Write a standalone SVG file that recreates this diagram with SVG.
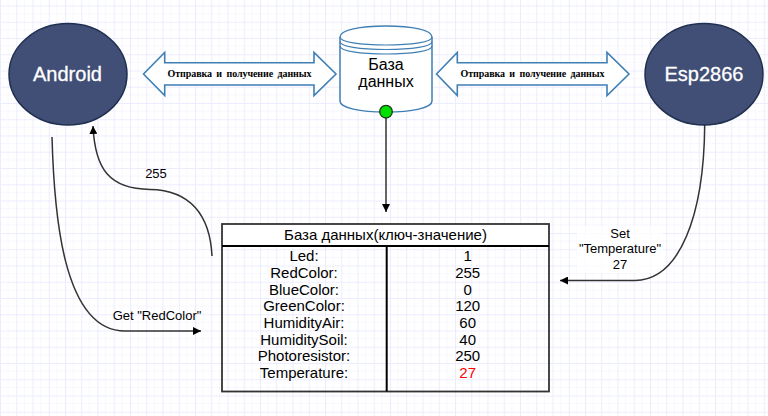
<svg xmlns="http://www.w3.org/2000/svg" width="768" height="416" viewBox="0 0 768 416">
<style>
.sans{font-family:"Liberation Sans",Arial,sans-serif;text-anchor:middle;fill:#000}
.node{fill:#414e75;stroke:#1f2f4f;stroke-width:1.5}
.nt{font-size:20px;fill:#fff}
.flow{fill:#fff;stroke:#3f7fb5;stroke-width:1.6}
.ft{font-family:"Liberation Serif","Times New Roman",serif;font-size:10px;font-weight:bold;text-anchor:middle;fill:#000;word-spacing:2px}
.cyl{fill:#fff;stroke:#3f7fb5;stroke-width:1.5}
.arc{fill:none;stroke:#3f7fb5;stroke-width:1.2}
.tb{font-size:15px}
.lbl{font-size:13px}
.conn{fill:none;stroke:#333;stroke-width:1.5}
.grid{stroke:#000;stroke-width:2;fill:none}
</style>
<defs>
<pattern id="g" width="16.25" height="16.25" patternUnits="userSpaceOnUse" y="5.5">
<path d="M8.1 0V16.25M0 8.1H16.25" stroke="#f7f7ff" stroke-width="1" fill="none"/>
<path d="M0.5 0V16.25M0 0.5H16.25" stroke="#ececff" stroke-width="1.1" fill="none"/>
</pattern>
<marker id="a" markerUnits="userSpaceOnUse" markerWidth="9" markerHeight="8" refX="8" refY="4" orient="auto"><path d="M0 0L8 4L0 8Z" fill="#000"/></marker>
</defs>
<rect width="768" height="416" fill="#fff"/>
<rect width="768" height="416" fill="url(#g)"/>
<g id="connectors">
<rect x="577" y="226" width="86" height="47" fill="#fff" fill-opacity=".8"/>
<path class="conn" d="M52 137C54 210 62 331 125 331L201 331" marker-end="url(#a)"/>
<path class="conn" d="M212 256C210 215 190 190 150 189.5C110 189 95 170 93 126" marker-end="url(#a)"/>
<path class="conn" d="M704.7 125C704 215 680 280 635 280.5L560 280.5" marker-end="url(#a)"/>
<path class="conn" d="M386 118V212" marker-end="url(#a)"/>
<text class="sans lbl" x="156" y="177.5">255</text>
<text class="sans lbl" x="157" y="319.5">Get "RedColor"</text>
<text class="sans lbl" x="620" y="238">Set</text>
<text class="sans lbl" x="620" y="253">"Temperature"</text>
<text class="sans lbl" x="620" y="268.5">27</text>
</g>
<g id="android">
<ellipse class="node" cx="68" cy="74.3" rx="59" ry="50.7"/>
<text class="sans nt" x="67.5" y="81" stroke="#fff" stroke-width=".3">Android</text>
</g>
<g id="esp2866">
<ellipse class="node" cx="704" cy="74.3" rx="59" ry="50.7"/>
<text class="sans nt" x="704" y="81" stroke="#fff" stroke-width=".3">Esp2866</text>
</g>
<g id="flow-left">
<path class="flow" d="M143.5 74L164.7 52.5V62.7H314V52.5L336 74L314 95.5V85H164.7V95.5Z"/>
<text class="ft" x="239.5" y="77" textLength="144" lengthAdjust="spacing">Отправка и получение данных</text>
</g>
<g id="flow-right">
<path class="flow" d="M436.5 74L457.3 52.5V62.7H607V52.5L629 74L607 95.5V85H457.3V95.5Z"/>
<text class="ft" x="532.5" y="77" textLength="144" lengthAdjust="spacing">Отправка и получение данных</text>
</g>
<g id="database">
<path class="cyl" d="M340 37C340 30 360 26 386 26S432 30 432 37V101C432 108 412 112 386 112S340 108 340 101Z"/>
<path class="arc" d="M340 37C340 42 360 45 386 45S432 42 432 37"/>
<path class="arc" d="M340 41.5C340 46.5 360 49.5 386 49.5S432 46.5 432 41.5"/>
<path class="arc" d="M340 46C340 51 360 54 386 54S432 51 432 46"/>
<text class="sans" font-size="16" x="386" y="70">База</text>
<text class="sans" font-size="16" x="386" y="87">данных</text>
<circle cx="386" cy="111.7" r="6.3" fill="#00e000" stroke="#1a3a1a" stroke-width="1.3"/>
</g>
<g id="table">
<rect x="222" y="224" width="327" height="22" fill="#fff"/>
<rect x="222" y="224" width="327" height="167.5" fill="none" stroke="#333" stroke-width="1.8"/>
<path class="grid" d="M222 246H549M386.7 246V391.5"/>
<text class="sans tb" x="385.5" y="239.7">База данных(ключ-значение)</text>
<g class="sans tb">
<text x="304" y="260.7">Led:</text><text x="304" y="277.7">RedColor:</text><text x="304" y="294.7">BlueColor:</text><text x="304" y="311">GreenColor:</text><text x="304" y="328">HumidityAir:</text><text x="304" y="344.7">HumiditySoil:</text><text x="304" y="361">Photoresistor:</text><text x="304" y="378">Temperature:</text>
<text x="467.7" y="260.7">1</text><text x="467.7" y="277.7">255</text><text x="467.7" y="294.7">0</text><text x="467.7" y="311">120</text><text x="467.7" y="328">60</text><text x="467.7" y="344.7">40</text><text x="467.7" y="361">250</text><text x="467.7" y="378" style="fill:#f00">27</text>
</g>
</g>
</svg>
